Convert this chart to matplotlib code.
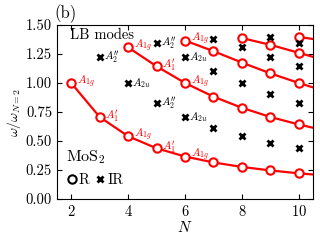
import numpy as np
import matplotlib
matplotlib.use('Agg')
from matplotlib import pyplot as plt
from matplotlib.lines import Line2D

plt.rcParams['font.family'] = 'serif'
plt.rcParams['font.serif'] = ['cmr10', 'DejaVu Serif']
plt.rcParams['mathtext.fontset'] = 'cm'
plt.rcParams['axes.formatter.use_mathtext'] = True

# Raman (R) branches, omega/omega_{N=2}
r_N1 = [2, 3, 4, 5, 6, 7, 8, 9, 10, 10.5]
r_w1 = [1.000, 0.707, 0.541, 0.437, 0.366, 0.315, 0.276, 0.246, 0.221, 0.211]
r_N3 = [4, 5, 6, 7, 8, 9, 10, 10.5]
r_w3 = [1.307, 1.144, 1.000, 0.882, 0.786, 0.707, 0.642, 0.614]
r_N5 = [6, 7, 8, 9, 10, 10.5]
r_w5 = [1.366, 1.274, 1.176, 1.083, 1.000, 0.962]
r_N7 = [8, 9, 10, 10.5]
r_w7 = [1.387, 1.329, 1.260, 1.225]
r_N9 = [10, 10.5]
r_w9 = [1.397, 1.379]

# infrared (IR) modes
ir_N = [3, 4, 5, 5, 6, 6, 7, 7, 7, 8, 8, 8, 9, 9, 9, 9, 10, 10, 10, 10]
ir_w = [1.225, 1.000, 0.831, 1.345, 0.707, 1.225, 0.614, 1.106, 1.379,
        0.541, 1.000, 1.307, 0.484, 0.909, 1.225, 1.393, 0.437, 0.831, 1.144, 1.345]

# mode labels
red_lab = [(2, 1.000, r'$A_{1g}$'), (3, 0.707, r"$A_1'$"), (4, 0.541, r'$A_{1g}$'),
           (4, 1.307, r'$A_{1g}$'), (5, 0.437, r"$A_1'$"), (5, 1.144, r"$A_1'$"),
           (6, 0.366, r'$A_{1g}$'), (6, 1.000, r'$A_{1g}$'), (6, 1.366, r'$A_{1g}$')]
blk_lab = [(3, 1.225, r"$A_2''$"), (4, 1.000, r'$A_{2u}$'), (5, 0.831, r"$A_2''$"),
           (5, 1.345, r"$A_2''$"), (6, 0.707, r'$A_{2u}$'), (6, 1.225, r'$A_{2u}$')]

fig = plt.figure(figsize=(3.2, 2.4), dpi=100)
ax = fig.add_axes([0.178, 0.171, 0.8, 0.725])

for xs, ys in [(r_N1, r_w1), (r_N3, r_w3), (r_N5, r_w5), (r_N7, r_w7), (r_N9, r_w9)]:
    ax.plot(xs, ys, color='red', lw=1.6, zorder=2)
    n = len([x for x in xs if x <= 10])
    ax.plot(xs[:n], ys[:n], 'o', color='red', mfc='white', mew=1.5, ms=6, zorder=3)

ax.plot(ir_N, ir_w, 'x', color='black', ms=5, mew=2, zorder=3)

for x, y, t in red_lab:
    ax.annotate(t, (x, y), xytext=(4, 1), textcoords='offset points',
                color='red', fontsize=8, va='center', ha='left')
for x, y, t in blk_lab:
    ax.annotate(t, (x, y), xytext=(3, 0), textcoords='offset points',
                color='black', fontsize=8, va='center', ha='left')

ax.text(0.05, 0.94, 'LB modes', transform=ax.transAxes, fontsize=10.5, va='center')

h = [Line2D([], [], marker='o', color='black', mfc='white', mew=1.5, ms=6, ls=''),
     Line2D([], [], marker='x', color='black', mew=2, ms=5, ls='')]
leg = ax.legend(h, ['R', 'IR'], ncol=2, loc='lower left', frameon=False, fontsize=10.5,
                title='MoS$_2$', title_fontsize=11.5, handletextpad=0.1, columnspacing=0.3,
                handlelength=0.8, borderaxespad=0.2, bbox_to_anchor=(0.0, 0.02))
leg._legend_box.align = 'left'

ax.set_xlim(1.5, 10.5)
ax.set_ylim(0, 1.5)
ax.set_xticks([2, 4, 6, 8, 10])
ax.set_yticks([0, 0.25, 0.5, 0.75, 1.0, 1.25, 1.5])
ax.yaxis.set_major_formatter(matplotlib.ticker.FormatStrFormatter('%.2f'))
ax.tick_params(direction='in', top=True, right=True, labelsize=10.5)
ax.set_xlabel('$N$', fontsize=11, labelpad=1)
ax.set_ylabel(r'$\omega/\omega_{N=2}$', fontsize=10, labelpad=2)
ax.set_title('(b)', loc='left', fontsize=12, x=-0.01, pad=5)

fig.savefig('out.png', dpi=100)
